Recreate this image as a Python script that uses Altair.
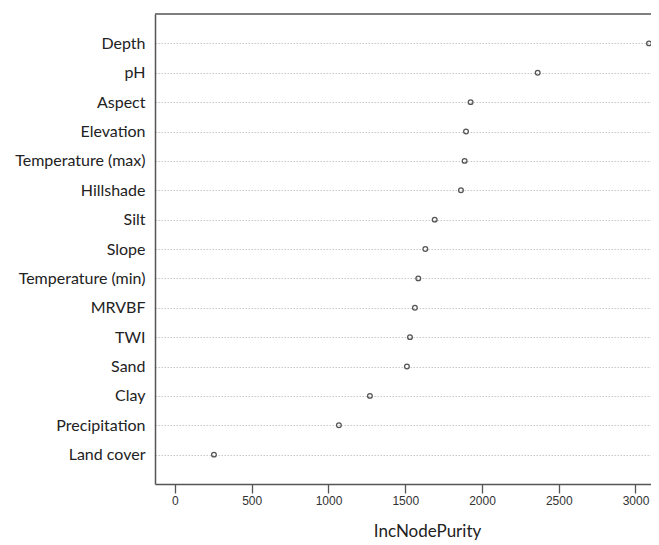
import altair as alt
import pandas as pd

variables = ["Depth", "pH", "Aspect", "Elevation", "Temperature (max)", "Hillshade",
             "Silt", "Slope", "Temperature (min)", "MRVBF", "TWI", "Sand", "Clay",
             "Precipitation", "Land cover"]
inc_node_purity = [3088, 2363, 1926, 1896, 1887, 1863, 1692, 1631, 1585, 1563,
                   1531, 1511, 1270, 1068, 254]
x_ticks = [0, 500, 1000, 1500, 2000, 2500, 3000]

df = pd.DataFrame({"variable": variables, "IncNodePurity": inc_node_purity})

W, H = 496, 470

points = alt.Chart(df).mark_point(
    shape="circle", filled=False, size=22, stroke="#555555", strokeWidth=1.3, opacity=1
).encode(
    x=alt.X("IncNodePurity:Q",
            scale=alt.Scale(domain=[-130, 3101], nice=False, zero=False),
            axis=alt.Axis(values=x_ticks, format="d", title="IncNodePurity", grid=False,
                          domain=True, domainColor="#555555", domainWidth=1.5,
                          tickColor="#555555", tickSize=9, tickWidth=1.3,
                          labelFont="Liberation Sans", labelFontSize=12,
                          labelColor="#333333", labelPadding=2,
                          titleFont="Lato", titleFontSize=17, titleFontWeight="normal",
                          titleColor="#222222", titlePadding=17,
                          titleX=272, titleAnchor="start", titleAlign="center")),
    y=alt.Y("variable:N", sort=variables, title=None,
            scale=alt.Scale(type="point", padding=1),
            axis=alt.Axis(domain=True, domainColor="#555555", domainWidth=1.5,
                          ticks=False, labelPadding=10, labelFont="Lato",
                          labelFontSize=16, labelColor="#222222",
                          grid=True, gridColor="#c8c8c8", gridDash=[1.5, 1.5],
                          gridWidth=1))
)

top_border = alt.Chart(pd.DataFrame({"k": [0]})).mark_rule(
    color="#555555", strokeWidth=1.5
).encode(x=alt.value(0), x2=alt.value(W), y=alt.value(0))

chart = alt.layer(points, top_border).properties(
    width=W, height=H,
    autosize=alt.AutoSizeParams(type="none"),
    padding={"left": 147, "top": 6, "right": 0, "bottom": 58},
    background="white",
).configure_view(strokeWidth=0)

chart.save("out.html", embed_options={"renderer": "svg", "actions": False})
